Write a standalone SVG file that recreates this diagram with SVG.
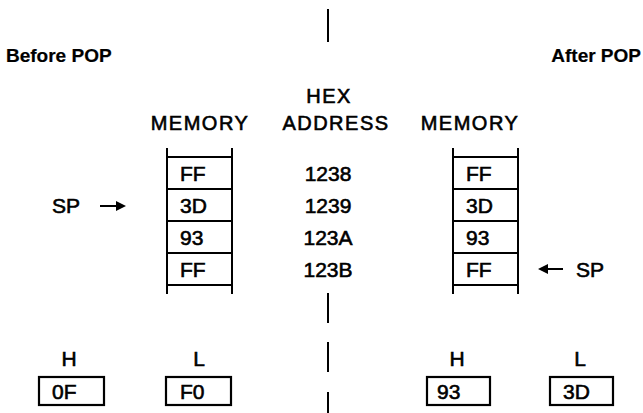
<svg xmlns="http://www.w3.org/2000/svg" width="643" height="413" viewBox="0 0 643 413">
<style>
text{font-family:"Liberation Sans","DejaVu Sans",sans-serif;font-size:21px;fill:#000;stroke:#000;stroke-width:0.6}
.b{font-weight:bold;font-size:19px;stroke-width:0.2}
.h{font-size:20px;letter-spacing:1.5px}
.m{text-anchor:middle}
.ln{stroke:#000;stroke-width:2;fill:none}
.box{stroke:#000;stroke-width:2.2;fill:#fff}
.ah{fill:#000;stroke:none}
</style>
<g id="titles">
<text class="b" x="6" y="62">Before POP</text>
<text class="b" x="641" y="62" text-anchor="end">After POP</text>
<text class="h m" x="329" y="103">HEX</text>
<text class="h m" x="200" y="130">MEMORY</text>
<text class="h m" x="336" y="130">ADDRESS</text>
<text class="h m" x="470" y="130">MEMORY</text>
</g>
<g id="divider">
<line class="ln" x1="328" y1="9" x2="328" y2="42"/>
<line class="ln" x1="328" y1="293" x2="328" y2="323"/>
<line class="ln" x1="328" y1="342" x2="328" y2="372"/>
<line class="ln" x1="328" y1="392" x2="328" y2="413"/>
</g>
<g id="mem-before">
<path class="ln" d="M167 148V294M232 148V294M167 157H232M167 189H232M167 221H232M167 253H232M167 285H232"/>
<text x="180" y="181">FF</text>
<text x="180" y="213">3D</text>
<text x="180" y="245">93</text>
<text x="180" y="277">FF</text>
</g>
<g id="addresses">
<text class="m" x="328" y="181">1238</text>
<text class="m" x="328" y="213">1239</text>
<text class="m" x="328" y="245">123A</text>
<text class="m" x="328" y="277">123B</text>
</g>
<g id="mem-after">
<path class="ln" d="M453 148V294M518 148V294M453 157H518M453 189H518M453 221H518M453 253H518M453 285H518"/>
<text x="466" y="181">FF</text>
<text x="466" y="213">3D</text>
<text x="466" y="245">93</text>
<text x="466" y="277">FF</text>
</g>
<g id="sp-before">
<text x="52" y="213">SP</text>
<line class="ln" x1="100" y1="206" x2="119" y2="206"/>
<path class="ah" d="M126 206L116 201V211Z"/>
</g>
<g id="sp-after">
<line class="ln" x1="545" y1="269" x2="563" y2="269"/>
<path class="ah" d="M538 269L548 264V274Z"/>
<text x="576" y="277">SP</text>
</g>
<g id="regs-before">
<text class="m" x="69" y="366">H</text>
<text class="m" x="199" y="366">L</text>
<rect class="box" x="39" y="377" width="65" height="28"/>
<text x="52" y="399">0F</text>
<rect class="box" x="166" y="377" width="65" height="28"/>
<text x="180" y="399">F0</text>
</g>
<g id="regs-after">
<text class="m" x="457" y="366">H</text>
<text class="m" x="580" y="366">L</text>
<rect class="box" x="427" y="377" width="63" height="28"/>
<text x="437" y="399">93</text>
<rect class="box" x="550" y="377" width="63" height="28"/>
<text x="563" y="399">3D</text>
</g>
</svg>
